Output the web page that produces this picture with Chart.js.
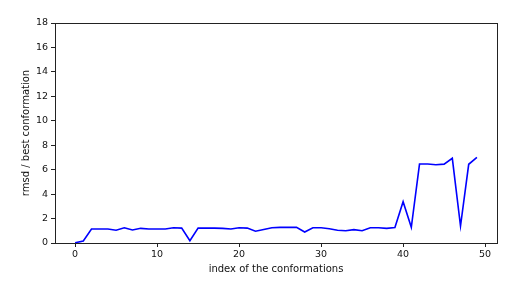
<!DOCTYPE html>
<html>
<head>
<meta charset="utf-8">
<script src="https://cdn.jsdelivr.net/npm/chart.js@4"></script>
<style>
  html, body { margin: 0; padding: 0; background: #fff; }
  #wrap { width: 510px; height: 291px; }
</style>
</head>
<body>
<div id="wrap"><canvas id="line-chart" width="510" height="291"></canvas></div>
<script>
// rmsd of each conformation vs the best one
const conformIndex = Array.from({length: 50}, (_, i) => i);
const rmsdValues = [
  0.02, 0.16, 1.14, 1.15, 1.15, 1.05, 1.25, 1.06, 1.2, 1.15,
  1.15, 1.15, 1.25, 1.22, 0.19, 1.22, 1.22, 1.22, 1.2, 1.15,
  1.25, 1.22, 0.96, 1.1, 1.25, 1.28, 1.28, 1.28, 0.9, 1.25,
  1.25, 1.17, 1.04, 1.0, 1.09, 1.0, 1.25, 1.25, 1.2, 1.27,
  3.38, 1.28, 6.46, 6.46, 6.4, 6.45, 6.93, 1.39, 6.44, 7.0
];
const xTickValues = [0, 10, 20, 30, 40, 50];
const yTickValues = [0, 2, 4, 6, 8, 10, 12, 14, 16, 18];

const tickFont = {family: 'DejaVu Sans', size: 9.5};
const titleFont = {family: 'DejaVu Sans', size: 10};

// draws the top/right spines so the plot is boxed like matplotlib
const frameBox = {
  id: 'frameBox',
  afterDraw(chart) {
    const {ctx, chartArea: a} = chart;
    ctx.save();
    ctx.strokeStyle = '#222';
    ctx.lineWidth = 1;
    ctx.strokeRect(a.left + 0.5, a.top + 0.5, a.right - a.left, a.bottom - a.top);
    ctx.restore();
  }
};

new Chart(document.getElementById('line-chart'), {
  type: 'line',
  data: {
    datasets: [{
      data: conformIndex.map((x, i) => ({x: x, y: rmsdValues[i]})),
      borderColor: '#0000ff',
      borderWidth: 1.6,
      pointRadius: 0,
      tension: 0,
      fill: false
    }]
  },
  options: {
    responsive: false,
    animation: false,
    layout: {padding: {top: 23, right: 13, left: 0, bottom: 0}},
    plugins: {legend: {display: false}, tooltip: {enabled: false}},
    scales: {
      x: {
        type: 'linear',
        min: -2.45,
        max: 51.45,
        afterBuildTicks: s => { s.ticks = xTickValues.map(v => ({value: v})); },
        afterFit: s => { s.height = 48; },
        grid: {display: true, drawOnChartArea: false, drawTicks: true, tickLength: 4, color: '#222'},
        border: {display: true, color: '#222'},
        ticks: {font: tickFont, color: '#111', padding: 2, maxRotation: 0},
        title: {display: true, text: 'index of the conformations', font: titleFont, color: '#111', padding: {top: 0, bottom: 16}}
      },
      y: {
        min: 0,
        max: 18,
        afterBuildTicks: s => { s.ticks = yTickValues.map(v => ({value: v})); },
        afterFit: s => { s.width = 55; },
        grid: {display: true, drawOnChartArea: false, drawTicks: true, tickLength: 4, color: '#222'},
        border: {display: true, color: '#222'},
        ticks: {font: tickFont, color: '#111', padding: 3},
        title: {display: true, text: 'rmsd / best conformation', font: titleFont, color: '#111', padding: {top: 20, bottom: 0}}
      }
    }
  },
  plugins: [frameBox]
});
</script>
</body>
</html>
